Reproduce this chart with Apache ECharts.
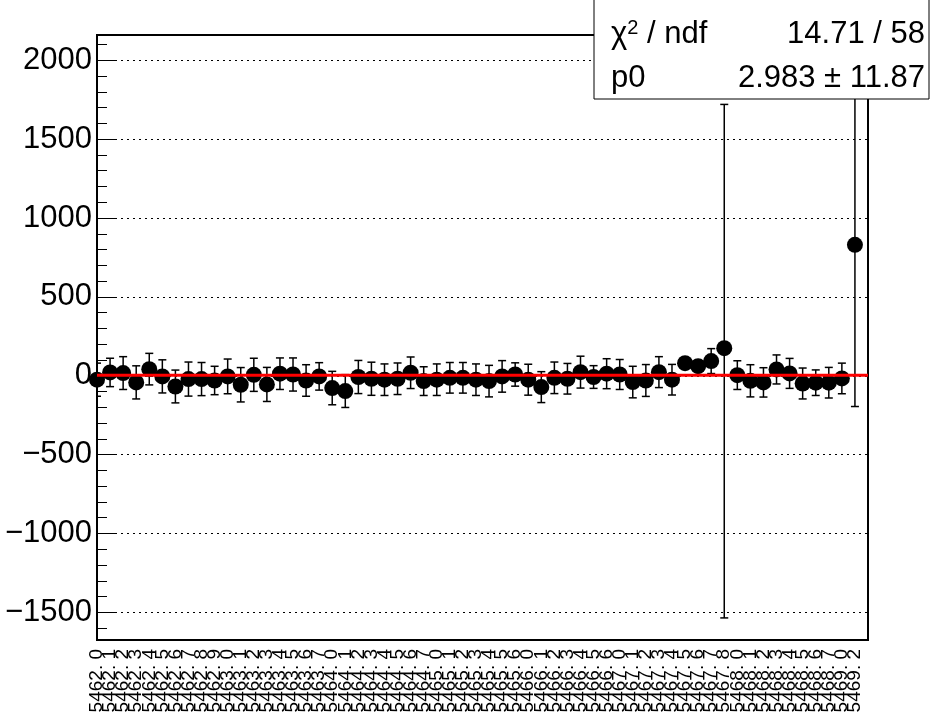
<!DOCTYPE html>
<html><head><meta charset="utf-8">
<script src="https://cdn.jsdelivr.net/npm/echarts@6/dist/echarts.min.js"></script>
<style>html,body{margin:0;padding:0;background:#fff}#c{width:945px;height:712px}</style>
</head><body><div id="c"></div>
<script>
// ---- data ----
const runLabels = [
  "5462. 0","5462. 1","5462. 2","5462. 3","5462. 4","5462. 5","5462. 6","5462. 7","5462. 8","5462. 9",
  "5463. 0","5463. 1","5463. 2","5463. 3","5463. 4","5463. 5","5463. 6","5463. 7",
  "5464. 0","5464. 1","5464. 2","5464. 3","5464. 4","5464. 5","5464. 6","5464. 7",
  "5465. 0","5465. 1","5465. 2","5465. 3","5465. 4","5465. 5","5465. 6",
  "5466. 0","5466. 1","5466. 2","5466. 3","5466. 4","5466. 5","5466. 6",
  "5467. 0","5467. 1","5467. 2","5467. 3","5467. 4","5467. 5","5467. 6","5467. 7","5467. 8",
  "5468. 0","5468. 1","5468. 2","5468. 3","5468. 4","5468. 5","5468. 6","5468. 7",
  "5469. 0","5469. 2"
];
const values = [
  -25, 21, 17, -42, 42, -4, -68, -21, -21, -30,
  -4, -57, 6, -55, 13, 8, -30, -4, -78, -97,
  -8, -19, -25, -19, 19, -34, -25, -13, -13, -25,
  -34, -4, 8, -25, -72, -13, -19, 23, -8, 13,
  8, -40, -30, 23, -25, 80, 61, 93, 175, 4,
  -32, -42, 40, 15, -49, -44, -44, -17, 830
];
const errLow = [
  105, 90, 104, 105, 100, 105, 104, 108, 105, 90,
  110, 109, 105, 108, 100, 105, 100, 87, 106, 104,
  105, 105, 100, 100, 100, 91, 100, 97, 97, 100,
  100, 100, 74, 98, 98, 100, 97, 101, 72, 95,
  95, 100, 101, 98, 97, 30, 30, 79, 1710, 91,
  102, 93, 92, 95, 98, 81, 97, 97, 1025
];
const errHigh = [
  105, 90, 104, 105, 100, 105, 104, 108, 105, 90,
  110, 109, 105, 108, 100, 105, 100, 87, 106, 104,
  105, 105, 100, 100, 100, 91, 100, 97, 97, 100,
  100, 100, 74, 98, 98, 100, 97, 101, 72, 95,
  95, 100, 101, 98, 97, 30, 30, 79, 1545, 91,
  102, 93, 92, 95, 98, 81, 97, 97, 1025
];
const fitP0 = 2.983;
const statChi2 = "14.71 / 58";
const statP0 = "2.983 \u00b1 11.87";
const yMajorTicks = [-1500, -1000, -500, 0, 500, 1000, 1500, 2000];
const yMinorTicks = [-1600,-1400,-1300,-1200,-1100,-900,-800,-700,-600,-400,-300,-200,-100,
  100,200,300,400,600,700,800,900,1100,1200,1300,1400,1600,1700,1800,1900,2100];

// ---- chart ----
const FONT = "Liberation Sans, Arial, Helvetica, sans-serif";
const chart = echarts.init(document.getElementById('c'), null, {renderer: 'canvas'});
const pts = values.map((v, i) => [i, v]);
const errData = values.map((v, i) => [i, v, errLow[i], errHigh[i]]);
const YMIN = -1675, YMAX = 2160;
const catLabels = runLabels.concat(['']);

chart.setOption({
  animation: false,
  backgroundColor: '#fff',
  grid: {left: 97, right: 77, top: 35, bottom: 72, containLabel: false, outerBoundsMode: 'none',
    show: true, borderColor: '#000', borderWidth: 2, backgroundColor: 'transparent'},
  xAxis: [{
    type: 'value', min: 0, max: 59, interval: 1,
    axisLine: {show: false}, axisTick: {show: false}, splitLine: {show: false},
    axisLabel: {show: false}
  }, {
    type: 'category', data: catLabels, boundaryGap: false, position: 'bottom',
    axisLine: {show: false}, axisTick: {show: false}, splitLine: {show: false},
    axisLabel: {interval: 0, hideOverlap: false, rotate: 90, fontSize: 19, fontFamily: FONT, color: '#000', margin: 9}
  }],
  yAxis: [{
    type: 'value', min: YMIN, max: YMAX, position: 'left',
    axisLine: {show: false},
    axisTick: {show: true, inside: true, length: 20, customValues: yMajorTicks, lineStyle: {color: '#000', width: 1}},
    axisLabel: {customValues: yMajorTicks, fontSize: 31, fontFamily: FONT, color: '#000', margin: 5,
      formatter: v => String(v).replace('-', '\u2212')},
    splitLine: {show: true, lineStyle: {color: '#000', type: [2, 4], width: 1}}
  }, {
    type: 'value', min: YMIN, max: YMAX, position: 'left',
    axisLine: {show: false},
    axisTick: {show: true, inside: true, length: 10, customValues: yMinorTicks, lineStyle: {color: '#000', width: 1}},
    axisLabel: {show: false}, splitLine: {show: false}
  }],
  series: [{
    type: 'custom', name: 'errors', clip: true, z: 2,
    data: errData,
    renderItem: (params, api) => {
      const x = api.value(0), y = api.value(1), lo = api.value(2), hi = api.value(3);
      const top = api.coord([x, y + hi]);
      const bot = api.coord([x, y - lo]);
      const cap = 4;
      const st = {stroke: '#000', lineWidth: 1.5};
      return {type: 'group', children: [
        {type: 'line', shape: {x1: top[0], y1: top[1], x2: bot[0], y2: bot[1]}, style: st},
        {type: 'line', shape: {x1: top[0] - cap, y1: top[1], x2: top[0] + cap, y2: top[1]}, style: st},
        {type: 'line', shape: {x1: bot[0] - cap, y1: bot[1], x2: bot[0] + cap, y2: bot[1]}, style: st}
      ]};
    }
  }, {
    type: 'scatter', name: 'points', data: pts, symbol: 'circle', symbolSize: 16,
    itemStyle: {color: '#000', opacity: 1}, z: 3, clip: true
  }, {
    type: 'line', name: 'fit', data: [[0, fitP0], [59, fitP0]], symbol: 'none',
    lineStyle: {color: '#ff0000', width: 3}, z: 4, silent: true
  }],
  graphic: [
    {type: 'rect', z: 100, zlevel: 1, shape: {x: 594, y: -1, width: 335, height: 100}, style: {fill: '#fff', stroke: '#000', lineWidth: 1}},
    {type: 'text', z: 101, zlevel: 1, x: 611, y: 34, style: {
      text: '{a|\u03c7}{s|2}{a| / ndf}', verticalAlign: 'middle',
      rich: {a: {fontSize: 31, fontFamily: FONT, fill: '#000'}, s: {fontSize: 20, fontFamily: FONT, fill: '#000', verticalAlign: 'top', padding: [0,0,12,0]}}
    }},
    {type: 'text', z: 101, zlevel: 1, x: 925, y: 34, style: {text: statChi2, fontSize: 31, fontFamily: FONT, fill: '#000', align: 'right', verticalAlign: 'middle'}},
    {type: 'text', z: 101, zlevel: 1, x: 611, y: 78, style: {text: 'p0', fontSize: 31, fontFamily: FONT, fill: '#000', verticalAlign: 'middle'}},
    {type: 'text', z: 101, zlevel: 1, x: 925, y: 78, style: {text: statP0, fontSize: 31, fontFamily: FONT, fill: '#000', align: 'right', verticalAlign: 'middle'}}
  ]
});
</script>
</body></html>
